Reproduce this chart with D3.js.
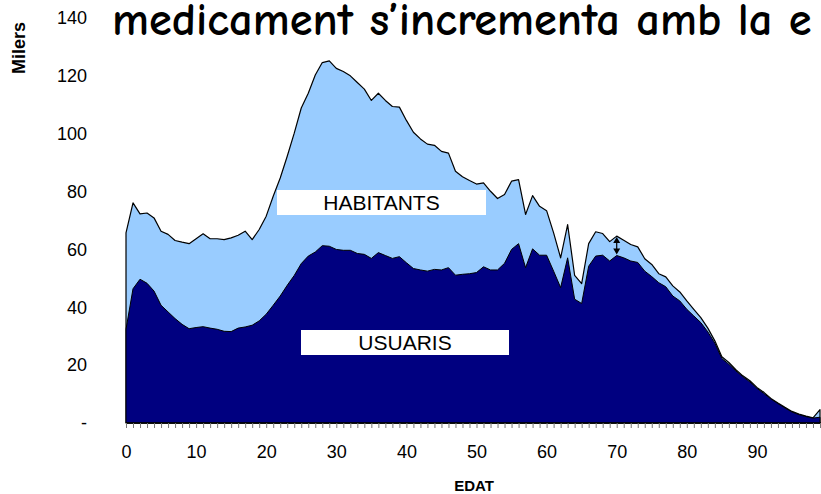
<!DOCTYPE html>
<html>
<head>
<meta charset="utf-8">
<style>
html, body { margin:0; padding:0; background:white; overflow:hidden; }
svg { display:block; font-family:"Liberation Sans", Arial, sans-serif; }
</style>
</head>
<body>
<div id="chart"></div>
<script src="https://d3js.org/d3.v7.min.js"></script>
<script>
// ages 0..99, thousands of people
const ages = d3.range(0, 100);
const habitants = [
  65.7, 76.1, 72.3, 72.6, 70.9, 66.3, 65.2, 63.1, 62.5, 62.0,
  63.7, 65.4, 63.7, 63.7, 63.4, 64.0, 64.9, 66.3, 63.4, 66.9,
  71.5, 78.4, 84.7, 92.2, 100.2, 108.9, 114.0, 120.3, 124.6, 125.2,
  122.6, 121.5, 120.0, 117.7, 115.4, 111.5, 114.0, 111.5, 109.4, 109.2,
  104.6, 100.5, 98.2, 96.4, 96.0, 93.9, 93.3, 87.0, 85.1, 83.8,
  82.6, 83.0, 80.1, 77.6, 79.0, 83.6, 84.1, 72.1, 78.6, 74.9,
  73.4, 65.7, 57.1, 68.6, 51.0, 48.2, 62.0, 66.1, 65.5, 62.7,
  64.6, 63.2, 61.7, 60.9, 56.8, 54.8, 51.6, 50.5, 47.4, 45.3,
  42.2, 39.3, 36.4, 32.8, 28.4, 22.9, 20.9, 18.4, 16.3, 14.6,
  12.3, 10.6, 8.5, 6.9, 5.4, 4.0, 3.1, 2.4, 1.8, 4.6
];
const usuaris = [
  32.4, 46.4, 49.7, 48.3, 45.6, 40.7, 38.4, 36.1, 34.1, 32.6,
  33.0, 33.3, 32.8, 32.4, 31.7, 31.6, 32.8, 33.2, 33.8, 35.3,
  37.6, 40.7, 43.9, 47.6, 51.0, 55.1, 57.7, 59.1, 61.3, 61.1,
  60.0, 59.7, 59.7, 58.6, 58.3, 56.9, 58.9, 57.9, 56.9, 57.5,
  55.4, 53.4, 52.9, 52.5, 53.1, 52.9, 53.7, 51.1, 51.4, 51.6,
  52.0, 54.0, 52.9, 52.9, 55.2, 60.0, 62.0, 53.7, 60.2, 58.0,
  58.0, 52.5, 46.8, 57.1, 42.8, 41.3, 54.2, 57.7, 58.0, 56.0,
  57.9, 57.1, 56.0, 55.5, 52.5, 50.6, 48.5, 47.1, 43.9, 42.2,
  39.3, 37.0, 34.7, 31.5, 27.6, 22.3, 20.3, 18.0, 16.0, 14.2,
  12.0, 10.2, 8.3, 6.7, 5.2, 3.8, 2.9, 2.2, 1.7, 2.0
];
const yTicks = [0, 20, 40, 60, 80, 100, 120, 140];
const xLabels = [0, 10, 20, 30, 40, 50, 60, 70, 80, 90];
// the part of the title that is visible in the frame
const title = "medicament s’incrementa amb la e";

const width = 821, height = 494;
const svg = d3.select("#chart").append("svg")
  .attr("width", width)
  .attr("height", height);

const x = d3.scaleLinear().domain([0, 99]).range([126, 820]);
const y = d3.scaleLinear().domain([0, 140]).range([423, 18]);

const rows = ages.map((a, i) => ({age: a, hab: habitants[i], usu: usuaris[i]}));

const areaHab = d3.area()
  .x(d => x(d.age))
  .y0(y(0))
  .y1(d => y(d.hab));
const areaUsu = d3.area()
  .x(d => x(d.age))
  .y0(y(0))
  .y1(d => y(d.usu));

svg.append("path")
  .datum(rows)
  .attr("d", areaHab)
  .attr("fill", "#99ccff")
  .attr("stroke", "#000")
  .attr("stroke-width", 1.2)
  .attr("stroke-linejoin", "round");

svg.append("path")
  .datum(rows)
  .attr("d", areaUsu)
  .attr("fill", "#000080")
  .attr("stroke", "#000")
  .attr("stroke-width", 1)
  .attr("stroke-linejoin", "round");

// x axis: one tick per year, label every 10
const xAxis = svg.append("g")
  .attr("transform", `translate(0,${y(0)})`)
  .call(d3.axisBottom(x)
    .tickValues(ages)
    .tickSize(5)
    .tickPadding(17)
    .tickFormat(d => xLabels.includes(d) ? d : ""));
xAxis.select(".domain").attr("stroke", "#000").attr("stroke-width", 1.5)
  .attr("d", `M${x(0)},0H${width}`);
xAxis.selectAll(".tick line").attr("stroke", "#777");
xAxis.selectAll("text")
  .attr("font-size", 18)
  .attr("font-family", "Liberation Sans, Arial, sans-serif")
  .attr("fill", "#000");

// y axis: labels only
const yAxis = svg.append("g")
  .attr("transform", "translate(87,0)")
  .call(d3.axisLeft(y)
    .tickValues(yTicks)
    .tickSize(0)
    .tickPadding(0)
    .tickFormat(d => d === 0 ? "-" : d));
yAxis.select(".domain").remove();
yAxis.selectAll("text")
  .attr("font-size", 18)
  .attr("font-family", "Liberation Sans, Arial, sans-serif")
  .attr("fill", "#000");

// axis titles
svg.append("text")
  .attr("x", 474).attr("y", 491)
  .attr("text-anchor", "middle")
  .attr("font-size", 15).attr("font-weight", "bold")
  .text("EDAT");
svg.append("text")
  .attr("transform", "translate(25,48)rotate(-90)")
  .attr("text-anchor", "middle")
  .attr("font-size", 18).attr("font-weight", "bold")
  .text("Milers");

// title, Comic-like bold
const titleFont = "'Comic Sans MS', 'Comic Neue', 'DejaVu Sans', sans-serif";
const t = svg.append("text")
  .attr("x", 112).attr("y", 35)
  .attr("font-family", titleFont)
  .attr("font-weight", "bold")
  .attr("font-size", 36)
  .text(title);
// fit to ~700px wide
const w = t.node().getComputedTextLength();
t.attr("font-size", 36 * 700 / w);

// series labels
function label(txt, x0, x1, y0, y1) {
  svg.append("rect")
    .attr("x", x0).attr("y", y0)
    .attr("width", x1 - x0).attr("height", y1 - y0)
    .attr("fill", "#fff");
  svg.append("text")
    .attr("x", (x0 + x1) / 2).attr("y", (y0 + y1) / 2 + 7.5)
    .attr("text-anchor", "middle")
    .attr("font-size", 21)
    .text(txt);
}
label("HABITANTS", 277, 486, 190, 215);
label("USUARIS", 301, 509, 330, 355);

// double arrow at age 70 between the two series
const ax = x(70);
const yTop = y(habitants[70]) + 1, yBot = y(usuaris[70]) - 1;
svg.append("line")
  .attr("x1", ax).attr("x2", ax)
  .attr("y1", yTop + 4).attr("y2", yBot - 4)
  .attr("stroke", "#000").attr("stroke-width", 1.2);
svg.append("path")
  .attr("d", `M${ax},${yTop}l-3.5,6h7z M${ax},${yBot}l-3.5,-6h7z`)
  .attr("fill", "#000");
</script>
</body>
</html>
